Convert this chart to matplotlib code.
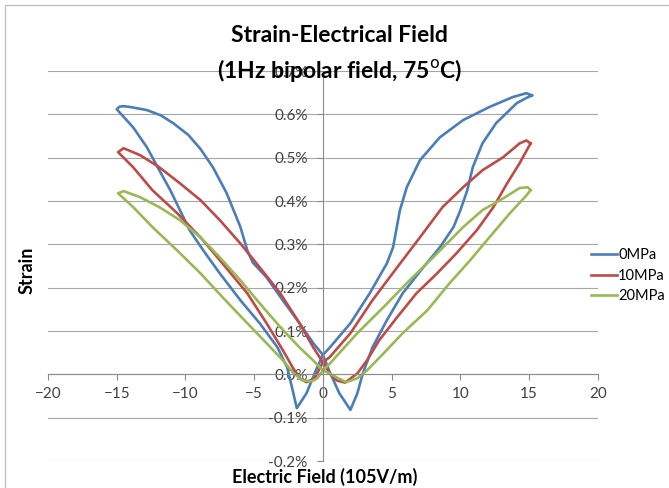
import matplotlib
matplotlib.use("Agg")
import matplotlib.pyplot as plt
from matplotlib.patches import Rectangle
from matplotlib.ticker import FuncFormatter

plt.rcParams['font.family'] = ['Lato', 'DejaVu Sans']

# strain-field loops (field in 10^5 V/m, strain in %)
field_0mpa = [15.2, 14.8, 13.8, 12.1, 10.2, 8.5, 7.05, 6.1, 5.6, 5.1, 4.65, 3.4, 2.0, 0.5, 0.0,
              -0.5, -1.2, -1.9, -2.2, -2.6, -3.3, -4.6, -6.0, -7.5, -8.7, -9.7, -10.4, -11.1,
              -11.9, -12.8, -13.8, -14.6, -15.0, -14.8, -14.5, -14.0, -12.8, -11.8, -10.9,
              -9.8, -8.9, -8.0, -7.0, -6.0, -5.5, -5.1, -4.1, -2.9, -1.7, -0.7, 0.0, 0.5, 1.2,
              2.0, 2.5, 2.9, 3.6, 4.65, 5.8, 7.3, 8.5, 9.5, 10.0, 10.5, 10.9, 11.6, 12.6, 14.1,
              14.8, 15.2]
strain_0mpa = [0.644, 0.649, 0.640, 0.617, 0.587, 0.547, 0.494, 0.432, 0.379, 0.293, 0.256, 0.187,
               0.118, 0.062, 0.045, 0.010, -0.044, -0.078, -0.037, 0.016, 0.062, 0.118, 0.171,
               0.233, 0.286, 0.333, 0.379, 0.425, 0.471, 0.524, 0.570, 0.598, 0.612, 0.618,
               0.619, 0.617, 0.610, 0.598, 0.580, 0.553, 0.520, 0.478, 0.418, 0.340, 0.286,
               0.258, 0.224, 0.170, 0.118, 0.072, 0.045, 0.005, -0.044, -0.082, -0.044, 0.002,
               0.062, 0.125, 0.187, 0.247, 0.293, 0.340, 0.379, 0.425, 0.478, 0.533, 0.580,
               0.626, 0.638, 0.644]

field_10mpa = [15.1, 14.8, 14.3, 13.1, 11.6, 10.2, 8.7, 7.05, 5.4, 3.6, 2.0, 0.5, 0.0, -0.6,
               -1.2, -1.7, -2.2, -2.9, -4.1, -5.5, -7.3, -8.9, -10.6, -12.4, -13.8, -14.9,
               -14.5, -13.3, -11.9, -10.4, -8.9, -7.5, -6.0, -4.6, -3.1, -1.7, -0.7, 0.0, 0.5,
               1.0, 1.6, 2.5, 3.2, 4.1, 5.4, 6.8, 8.3, 9.7, 11.2, 12.4, 13.4, 14.3, 15.1]
strain_10mpa = [0.533, 0.540, 0.533, 0.501, 0.471, 0.432, 0.386, 0.316, 0.247, 0.171, 0.095,
                0.040, 0.028, -0.009, -0.018, -0.009, 0.016, 0.055, 0.118, 0.187, 0.256, 0.316,
                0.372, 0.425, 0.478, 0.513, 0.522, 0.506, 0.478, 0.441, 0.402, 0.356, 0.302,
                0.247, 0.187, 0.118, 0.062, 0.028, 0.002, -0.014, -0.019, 0.002, 0.032, 0.079,
                0.132, 0.187, 0.233, 0.279, 0.333, 0.386, 0.441, 0.487, 0.533]

field_20mpa = [15.1, 14.9, 14.3, 13.1, 11.6, 10.2, 8.3, 6.3, 4.4, 2.5, 0.5, 0.0, -0.4, -0.8,
               -1.5, -2.2, -2.9, -4.1, -5.5, -7.3, -8.9, -10.6, -12.4, -13.8, -14.9, -14.5,
               -13.3, -11.9, -10.4, -8.9, -7.5, -6.0, -4.6, -3.1, -1.7, -0.7, 0.0, 0.5, 1.0,
               1.7, 2.5, 3.2, 4.4, 5.8, 7.6, 9.2, 10.7, 12.1, 13.6, 14.8, 15.1]
strain_20mpa = [0.425, 0.432, 0.430, 0.406, 0.379, 0.340, 0.279, 0.217, 0.155, 0.095, 0.025,
                0.009, -0.009, -0.016, -0.014, 0.005, 0.032, 0.072, 0.118, 0.178, 0.233, 0.286,
                0.340, 0.386, 0.418, 0.423, 0.409, 0.386, 0.356, 0.316, 0.270, 0.217, 0.164,
                0.109, 0.062, 0.032, 0.009, 0.002, -0.007, -0.018, -0.009, 0.009, 0.048, 0.095,
                0.148, 0.210, 0.263, 0.316, 0.372, 0.413, 0.425]

labels = ['0MPa', '10MPa', '20MPa']
colors = ['#4a7ebb', '#be4b48', '#98b954']

fig = plt.figure(figsize=(6.69, 4.88), dpi=100)
ax = fig.add_axes([0.0717, 0.0553, 0.822, 0.799])

ax.plot(field_0mpa, strain_0mpa, color=colors[0], lw=1.9, label=labels[0])
ax.plot(field_10mpa, strain_10mpa, color=colors[1], lw=1.9, label=labels[1])
ax.plot(field_20mpa, strain_20mpa, color=colors[2], lw=1.9, label=labels[2])

ax.set_xlim(-20, 20)
ax.set_ylim(-0.2, 0.7)
ax.set_xticks(range(-20, 21, 5))
ax.set_yticks([-0.2, -0.1, 0.0, 0.1, 0.2, 0.3, 0.4, 0.5, 0.6, 0.7])
ax.yaxis.set_major_formatter(FuncFormatter(lambda v, p: f"{v:.1f}%"))

# axes cross at the origin, excel style
ax.spines['left'].set_position(('data', 0))
ax.spines['bottom'].set_position(('data', 0))
ax.spines['top'].set_visible(False)
ax.spines['right'].set_visible(False)
for s in ['left', 'bottom']:
    ax.spines[s].set_color('#8c8c8c')
    ax.spines[s].set_linewidth(0.8)
ax.grid(True, axis='y', color='#a6a6a6', lw=0.8)
ax.set_axisbelow(True)
ax.tick_params(axis='x', direction='out', length=4, width=0.8, color='#8c8c8c',
               pad=5, labelsize=11, labelcolor='#404040')
ax.tick_params(axis='y', direction='out', length=4, width=0.8, color='#8c8c8c',
               pad=7, labelsize=11, labelcolor='#404040')

fig.text(0.508, 0.928, 'Strain-Electrical Field', ha='center', va='center',
         fontsize=16.5, fontweight='bold')
fig.text(0.508, 0.855, r'(1Hz bipolar field, 75$^{\mathrm{o}}$C)', ha='center', va='center',
         fontsize=16.5, fontweight='bold')
fig.text(0.485, 0.022, 'Electric Field (105V/m)', ha='center', va='center',
         fontsize=13, fontweight='bold')
fig.text(0.040, 0.447, 'Strain', ha='center', va='center', rotation=90,
         fontsize=13, fontweight='bold')

ax.legend(loc='upper left', bbox_to_anchor=(0.874, 0.503), bbox_transform=fig.transFigure,
          frameon=False, fontsize=10.5, handlelength=1.8, handletextpad=0.1,
          labelspacing=0.45, borderaxespad=0)

fig.patches.append(Rectangle((5 / 669, -0.05), 1.1, 1.05 - 5 / 488, transform=fig.transFigure,
                             fill=False, edgecolor='#c0c0c0', lw=1))

fig.savefig('out.png', dpi=100)
